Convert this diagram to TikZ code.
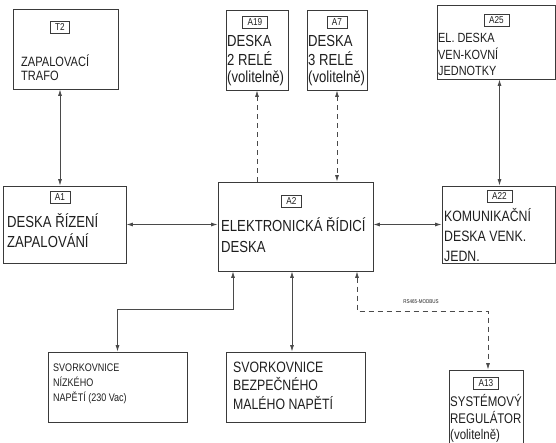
\documentclass[tikz,border=0pt]{standalone}
\usepackage{fontspec}
\setmainfont{Liberation Sans}[FakeStretch=0.82]
\usepackage{xcolor}
\definecolor{frame}{HTML}{3A3A3A}
\definecolor{wire}{HTML}{4A4A4A}
\definecolor{ink}{HTML}{1E1E1E}
\usetikzlibrary{arrows.meta,positioning,calc}
\newcommand\boxlines[1]{\begin{tabular}[t]{@{}l@{}}#1\end{tabular}}
\tikzset{
  >={Latex[length=6.5pt,width=4pt]},
  modbox/.style={draw=frame,line width=0.8pt,inner sep=0pt},
  tag/.style={draw=frame,line width=0.6pt,inner xsep=5pt,inner ysep=0pt,minimum height=12pt,text=ink,font=\fontsize{10}{10}\selectfont},
  txt/.style={anchor=base west,inner sep=0pt,text=ink},
  arr/.style={<->,draw=wire,line width=0.8pt},
  darr/.style={arr,dash pattern=on 5pt off 4pt},
}

\begin{document}
\begin{tikzpicture}[x=1pt,y=-1pt]
\useasboundingbox (0,0) rectangle (556,443);
% modules
\node[modbox,minimum width=105pt,minimum height=80pt] (t2) at (65.5,49) {};
\node[modbox,minimum width=62pt,minimum height=80pt] (a19) at (257,50) {};
\node[modbox,minimum width=60pt,minimum height=80pt] (a7) at (337,50) {};
\node[modbox,minimum width=118pt,minimum height=74pt] (a25) at (496,42) {};
\node[modbox,minimum width=123pt,minimum height=77pt] (a1) at (64.5,224.5) {};
\node[modbox,minimum width=155pt,minimum height=89pt] (a2) at (295.5,226.5) {};
\node[modbox,minimum width=113pt,minimum height=77pt] (a22) at (498.5,224.5) {};
\node[modbox,minimum width=139pt,minimum height=70pt] (svn) at (117.5,387) {};
\node[modbox,minimum width=139pt,minimum height=70pt] (svb) at (295.5,387) {};
\node[modbox,minimum width=74pt,minimum height=80pt] (a13) at (486,410) {};
% tags
\node[tag] (t2tag) at (60,27) {T2};
\node[tag] (a19tag) at (255,22) {A19};
\node[tag] (a7tag) at (337,22) {A7};
\node[tag] (a25tag) at (496.5,20) {A25};
\node[tag] (a1tag) at (60,197.5) {A1};
\node[tag] (a2tag) at (291.5,201.5) {A2};
\node[tag] (a22tag) at (499.5,196.5) {A22};
\node[tag] (a13tag) at (486,383.5) {A13};
% texts
\node[txt,font=\fontsize{13.5}{14}\selectfont] (t2txt) at (21,67) {\boxlines{ZAPALOVACÍ\\TRAFO}};
\node[txt,font=\fontsize{16}{17}\selectfont] (a19txt) at (227,47) {\boxlines{DESKA\\2 RELÉ\\(volitelně)}};
\node[txt,font=\fontsize{16}{17}\selectfont] (a7txt) at (308,47) {\boxlines{DESKA\\3 RELÉ\\(volitelně)}};
\node[txt,font=\fontsize{13.3}{16}\selectfont] (a25txt) at (438,43) {\boxlines{EL. DESKA\\VEN-KOVNÍ\\JEDNOTKY}};
\node[txt,font=\fontsize{16}{20}\selectfont] (a1txt) at (7,228) {\boxlines{DESKA ŘÍZENÍ\\ZAPALOVÁNÍ}};
\node[txt,font=\fontsize{16}{21}\selectfont] (a2txt) at (221,232) {\boxlines{ELEKTRONICKÁ ŘÍDICÍ\\DESKA}};
\node[txt,font=\fontsize{15}{20}\selectfont] (a22txt) at (444,222) {\boxlines{KOMUNIKAČNÍ\\DESKA VENK.\\JEDN.}};
\node[txt,font=\fontsize{11}{15}\selectfont] (svntxt) at (53,371) {\boxlines{SVORKOVNICE\\NÍZKÉHO\\NAPĚTÍ (230 Vac)}};
\node[txt,font=\fontsize{15}{18}\selectfont] (svbtxt) at (233,372) {\boxlines{SVORKOVNICE\\BEZPEČNÉHO\\MALÉHO NAPĚTÍ}};
\node[txt,font=\fontsize{14}{16.5}\selectfont] (a13txt) at (450,406) {\boxlines{SYSTÉMOVÝ\\REGULÁTOR\\(volitelně)}};
% connectors
\draw[arr] (t2tag |- t2.south) -- (t2tag |- a1.north);
\draw[darr,->] (a19.south |- a2.north) -- (a19.south);
\draw[darr] (a7.south) -- (a7.south |- a2.north);
\draw[arr] (a22tag |- a25.south) -- (a22tag |- a22.north);
\draw[arr] (a1.east) -- (a1.east -| a2.west);
\draw[arr] (a2.east |- a22.west) -- (a22.west);
\coordinate (lvbend) at (233,309);
\draw[arr] (lvbend |- a2.south) -- (lvbend) -| (svn.north);
\draw[arr] ([xshift=-3.5pt]svb.north |- a2.south) -- ([xshift=-3.5pt]svb.north);
\coordinate (busbend) at (357,311);
\draw[darr] (busbend |- a2.south) -- (busbend) -| ([xshift=2pt]a13.north);
\node[font=\fontsize{5.5}{6}\selectfont,text=ink] (bus) at (421,302) {RS465-MODBUS};
\end{tikzpicture}
\end{document}
